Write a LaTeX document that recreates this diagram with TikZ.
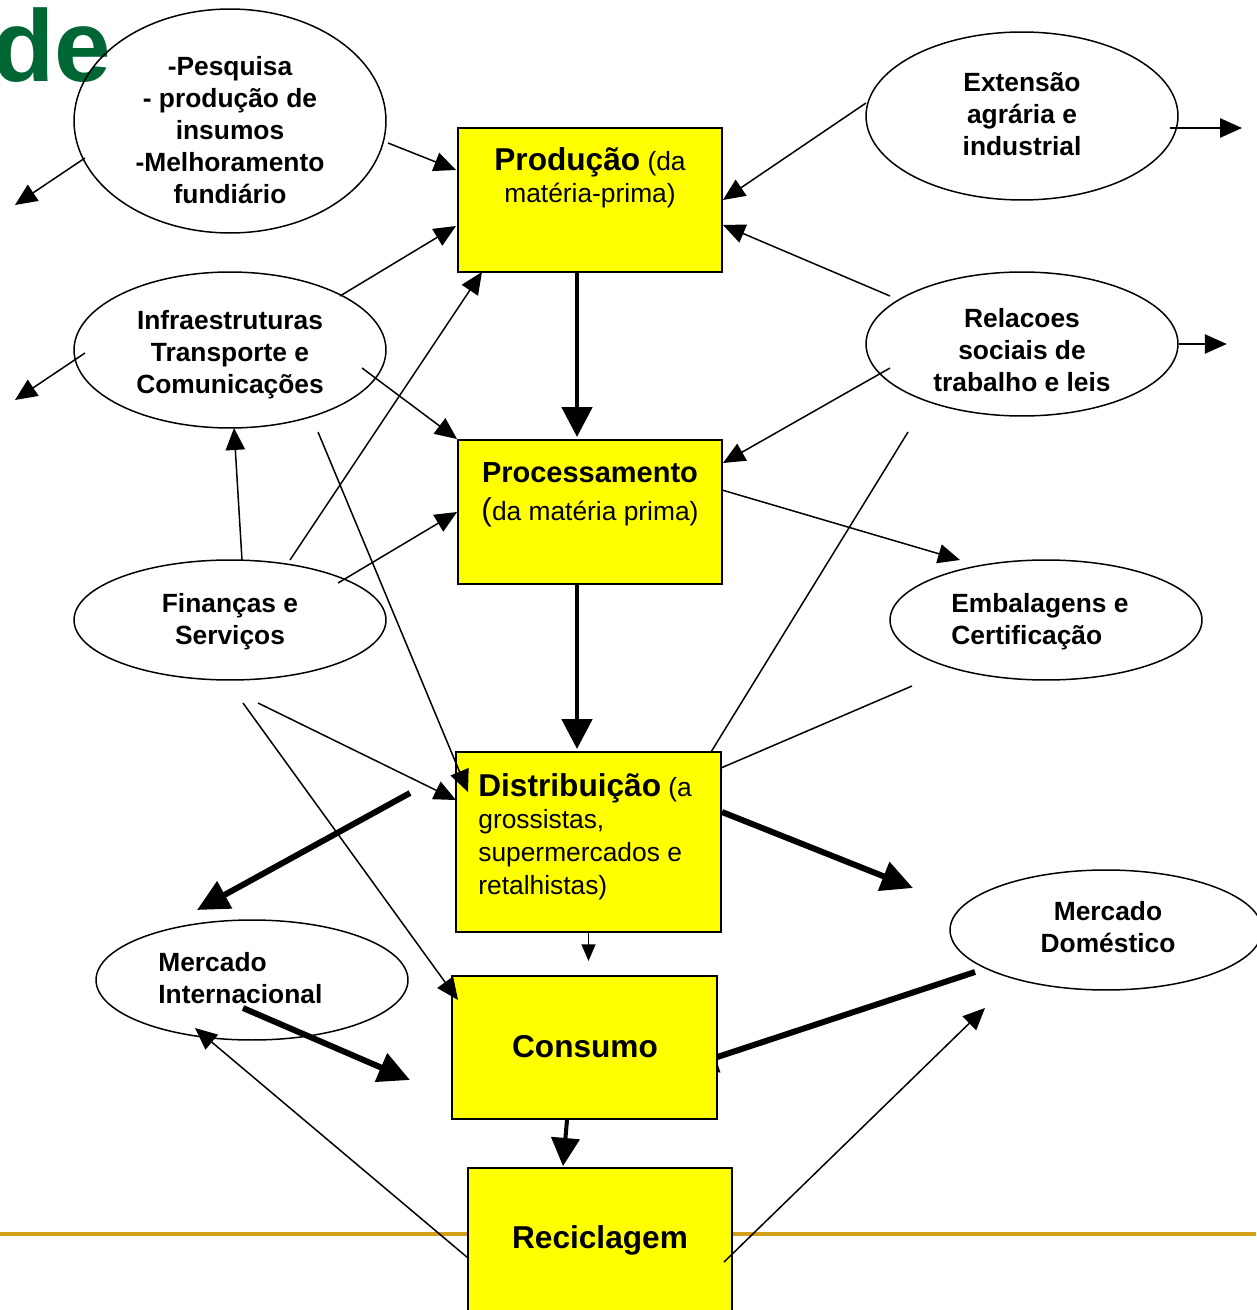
\documentclass[tikz,border=0pt]{standalone}
\usepackage{fontspec}
\setmainfont{Liberation Sans}
\usetikzlibrary{arrows.meta,calc,shapes.geometric,backgrounds}
\definecolor{boxyellow}{RGB}{255,255,0}
\definecolor{goldline}{RGB}{212,160,23}
\definecolor{degreen}{RGB}{0,102,51}
\begin{document}
\begin{tikzpicture}[x=0.02cm,y=-0.02cm,
  ell/.style={ellipse,draw,line width=0.85pt,minimum width=6.24cm,inner sep=0pt},
  box/.style={rectangle,draw,fill=boxyellow,line width=1.1pt,inner sep=0pt},
  etxt/.style={inner sep=0pt,font=\fontsize{15}{18.2}\selectfont\bfseries,align=center},
  btxt/.style={inner sep=0pt,font=\fontsize{15}{18.6}\selectfont,align=center},
  thinarr/.style={line width=0.85pt,-{Triangle[length=12.5pt,width=11pt]}},
  plainline/.style={line width=0.85pt},
  thickarr/.style={line width=3.4pt,-{Triangle[length=18pt,width=17pt]}},
  vthickarr/.style={line width=2.8pt,-{Triangle[length=17pt,width=17pt]}},
  cthickarr/.style={line width=2.3pt,-{Triangle[length=16pt,width=16pt]}},
  smallarr/.style={line width=0.85pt,-{Triangle[length=9.5pt,width=8pt]}}
]
\useasboundingbox (0,0) rectangle (1256,1310);

% title fragment
\node[anchor=base west,inner sep=0pt,text=degreen,font=\fontsize{58}{58}\selectfont\bfseries] (de) at (-8,82) {de};

% boxes
\node[box,minimum width=5.28cm,minimum height=2.88cm] (prod) at (590,200) {};
\node[box,minimum width=5.28cm,minimum height=2.88cm] (proc) at (590,512) {};
\node[box,minimum width=5.3cm,minimum height=3.6cm] (dist) at (588.5,842) {};
\node[box,minimum width=5.3cm,minimum height=2.86cm] (cons) at (584.5,1047.5) {};
\node[box,minimum width=5.28cm,minimum height=3.04cm] (recl) at (600,1244) {};

\node[btxt,anchor=north] (prodt) at (590,147) {{\fontsize{18}{18.6}\selectfont\bfseries Produção} (da\\matéria-prima)};
\node[btxt,anchor=north,font=\fontsize{15}{21.8}\selectfont] (proct) at (590,462) {{\fontsize{16.5}{21.8}\selectfont\bfseries Processamento}\\{\fontsize{18}{21.8}\selectfont(}da matéria prima)};
\node[btxt,align=left,anchor=north west,font=\fontsize{15}{18.6}\selectfont] (distt) at (478,773) {{\fontsize{18}{18.6}\selectfont\bfseries Distribuição} (a\\grossistas,\\supermercados e\\retalhistas)};
\node[inner sep=0pt,anchor=base,font=\fontsize{18}{18}\selectfont\bfseries] (const) at (585,1057) {Consumo};
\node[inner sep=0pt,anchor=base,font=\fontsize{18}{18}\selectfont\bfseries] (reclt) at (600,1248) {Reciclagem};

% ellipses
\node[ell,minimum height=4.48cm] (pesq) at (230,121) {};
\node[ell,minimum height=3.36cm] (ext) at (1022,116) {};
\node[ell,minimum height=3.12cm] (infra) at (230,350) {};
\node[ell,minimum height=2.88cm] (rel) at (1022,344) {};
\node[ell,minimum height=2.4cm] (fin) at (230,620) {};
\node[ell,minimum height=2.4cm] (emb) at (1046,620) {};
\node[ell,minimum height=2.4cm] (mint) at (252,980) {};
\node[ell,minimum height=2.4cm] (mdom) at (1106,930) {};

\node[etxt,anchor=north] (pesqt) at (230,56) {-Pesquisa\\- produção de\\insumos\\-Melhoramento\\fundiário};
\node[etxt,anchor=north] (extt) at (1022,72) {Extensão\\agrária e\\industrial};
\node[etxt,anchor=north] (infrat) at (230,310) {Infraestruturas\\Transporte e\\Comunicações};
\node[etxt,anchor=north] (relt) at (1022,308) {Relacoes\\sociais de\\trabalho e leis};
\node[etxt,anchor=north] (fint) at (230,593) {Finanças e\\Serviços};
\node[etxt,anchor=north west,align=left] (embt) at (951,593) {Embalagens e\\Certificação};
\node[etxt,anchor=north west,align=left] (mintt) at (158,952) {Mercado\\Internacional};
\node[etxt,anchor=north] (mdomt) at (1108,901) {Mercado\\Doméstico};

% background: gold rule and hidden arrow
\begin{pgfonlayer}{background}
\coordinate (gl) at (0,1234);
\coordinate (gr) at (1256,1234);
\draw[goldline,line width=1.8pt] (gl) -- (gr);
\draw[thickarr] ($(mdom)+(-131,42)$) -- ($(cons)+(101,20)$);
\end{pgfonlayer}

% connectors
\draw[thinarr] ($(pesq)+(158,22)$) -- ($(prod)+(-134,-30)$);
\draw[thinarr] ($(pesq)+(-145,37)$) -- ($(pesq)+(-215,84)$);
\draw[thinarr] ($(ext)+(-156,-13)$) -- (prod.east);
\draw[thinarr] ($(ext)+(148,12)$) -- ($(ext)+(220,12)$);
\draw[thinarr] ($(rel)+(-132,-48)$) -- ($(prod)+(133,25)$);
\draw[thinarr] ($(rel)+(-132,24)$) -- ($(proc)+(133,-49)$);
\draw[thinarr] (rel.east) -- ($(rel.east)+(48,0)$);
\draw[thinarr] ($(infra)+(110,-54)$) -- ($(prod)+(-134,26)$);
\draw[thinarr] ($(infra)+(-145,3)$) -- ($(infra)+(-215,50)$);
\draw[thinarr] ($(infra)+(132,18)$) -- (proc.north west);
\draw[thinarr] ($(infra)+(88,82)$) -- ($(dist)+(-120.5,-50)$);
\draw[thinarr] ($(fin)+(12,-60)$) -- ($(infra)+(4,78)$);
\draw[thinarr] ($(fin)+(60,-60)$) -- ($(prod)+(-108,72)$);
\draw[thinarr] ($(fin)+(108,-37)$) -- (proc.west);
\draw[thinarr] ($(fin)+(28,83)$) -- ($(dist)+(-132.5,-42)$);
\draw[thinarr] ($(fin)+(13,83)$) -- ($(cons)+(-126.5,-47.5)$);
\draw[vthickarr] ($(prod.south)+(-13,0)$) -- ($(proc.north)+(-13,-2)$);
\draw[vthickarr] ($(proc.south)+(-13,0)$) -- ($(dist.north)+(-11.5,-2)$);
\draw[smallarr] (dist.south) -- ($(dist.south)+(0,28)$);
\draw[cthickarr] ($(cons.south)+(-17.5,0)$) -- ($(recl.north)+(-37,-1)$);
\draw[thinarr] ($(proc)+(132,-22)$) -- ($(emb)+(-86,-60)$);
\draw[plainline] ($(emb)+(-134,66)$) -- ($(dist)+(132.5,-74)$);
\draw[plainline] ($(rel)+(-114,88)$) -- ($(dist)+(122.5,-90)$);
\draw[thickarr] ($(dist)+(-178.5,-49)$) -- ($(mint)+(-55,-70)$);
\draw[thickarr] ($(dist)+(133.5,-30)$) -- ($(mdom)+(-193,-42)$);
\draw[thickarr] ($(mint)+(-9,28)$) -- ($(cons)+(-174.5,32.5)$);
\draw[thinarr] ($(recl)+(-132,14)$) -- ($(mint)+(-57,48)$);
\draw[thinarr] ($(recl)+(124,18)$) -- ($(mdom)+(-121,78)$);
\end{tikzpicture}
\end{document}
